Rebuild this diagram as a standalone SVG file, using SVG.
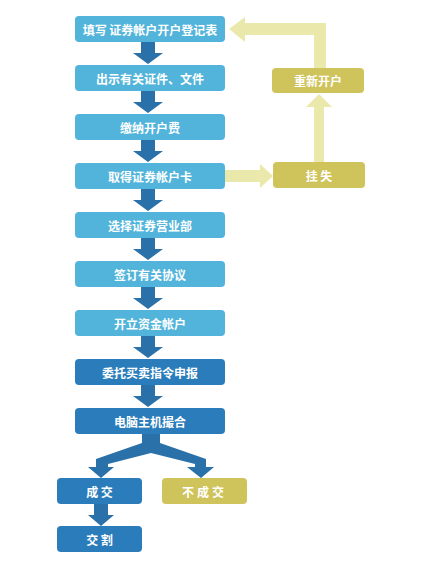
<svg xmlns="http://www.w3.org/2000/svg" width="424" height="577" viewBox="0 0 424 577">
<style>
.lb{fill:#52b4da}
.db{fill:#2b7cba}
.kb{fill:#cfc35b}
.t{fill:#fff;font-family:"Noto Sans CJK SC","Noto Sans",sans-serif;font-size:12px;font-weight:bold;text-anchor:middle;dominant-baseline:central}
.ba{fill:#2a70a9}
.ya{fill:#ebe8ab}
</style>
<rect width="424" height="577" fill="#fff"/>
<g id="connectors">
<polygon class="ba" points="141,42 155,42 155,53 163,53 148,64 133,53 141,53"/>
<polygon class="ba" points="141,91 155,91 155,102 163,102 148,113 133,102 141,102"/>
<polygon class="ba" points="141,140 155,140 155,151 163,151 148,162 133,151 141,151"/>
<polygon class="ba" points="141,189 155,189 155,200 163,200 148,211 133,200 141,200"/>
<polygon class="ba" points="141,238 155,238 155,249 163,249 148,260 133,249 141,249"/>
<polygon class="ba" points="141,287 155,287 155,298 163,298 148,309 133,298 141,298"/>
<polygon class="ba" points="141,336 155,336 155,347 163,347 148,358 133,347 141,347"/>
<polygon class="ba" points="141,385 155,385 155,396 163,396 148,407 133,396 141,396"/>
<polygon class="ba" points="142,434 160,434 160,443 206,459 206,467 214,467 201,478 187,467 195,467 195,464 151,453 108,464 108,467 114,467 101,478 88,467 96,467 96,459 142,443"/>
<polygon class="ba" points="94,504 108,504 108,515 114,515 101,526 88,515 94,515"/>
<polygon class="ya" points="225,170 260,170 260,164 273,176 260,188 260,182 225,182"/>
<polygon class="ya" points="314,162 314,107 306,107 319,94 332,107 324,107 324,162"/>
<polygon class="ya" points="314,68 314,35 245,35 245,42 229,29 245,17 245,23 326,23 326,68"/>
</g>
<g id="n1"><rect class="lb" x="75" y="16" width="150" height="26" rx="4"/><text class="t" x="150" y="29">填写 证券帐户开户登记表</text></g>
<g id="n2"><rect class="lb" x="75" y="65" width="150" height="26" rx="4"/><text class="t" x="150" y="78">出示有关证件、文件</text></g>
<g id="n3"><rect class="lb" x="75" y="114" width="150" height="26" rx="4"/><text class="t" x="150" y="127">缴纳开户费</text></g>
<g id="n4"><rect class="lb" x="75" y="163" width="150" height="26" rx="4"/><text class="t" x="150" y="176">取得证券帐户卡</text></g>
<g id="n5"><rect class="lb" x="75" y="212" width="150" height="26" rx="4"/><text class="t" x="150" y="225">选择证券营业部</text></g>
<g id="n6"><rect class="lb" x="75" y="261" width="150" height="26" rx="4"/><text class="t" x="150" y="274">签订有关协议</text></g>
<g id="n7"><rect class="lb" x="75" y="310" width="150" height="26" rx="4"/><text class="t" x="150" y="323">开立资金帐户</text></g>
<g id="n8"><rect class="db" x="75" y="359" width="150" height="26" rx="4"/><text class="t" x="150" y="372">委托买卖指令申报</text></g>
<g id="n9"><rect class="db" x="75" y="408" width="150" height="26" rx="4"/><text class="t" x="150" y="421">电脑主机撮合</text></g>
<g id="n10"><rect class="db" x="57" y="478" width="85" height="26" rx="4"/><text class="t" x="99.5" y="491">成 交</text></g>
<g id="n11"><rect class="kb" x="162" y="478" width="85" height="26" rx="4"/><text class="t" x="204.5" y="491" letter-spacing="3">不成交</text></g>
<g id="n12"><rect class="db" x="57" y="526" width="85" height="26" rx="4"/><text class="t" x="99.5" y="539">交 割</text></g>
<g id="n13"><rect class="kb" x="272" y="68" width="92" height="25" rx="4"/><text class="t" x="318" y="80.5">重新开户</text></g>
<g id="n14"><rect class="kb" x="273" y="162" width="92" height="26" rx="4"/><text class="t" x="319" y="175">挂 失</text></g>
</svg>
